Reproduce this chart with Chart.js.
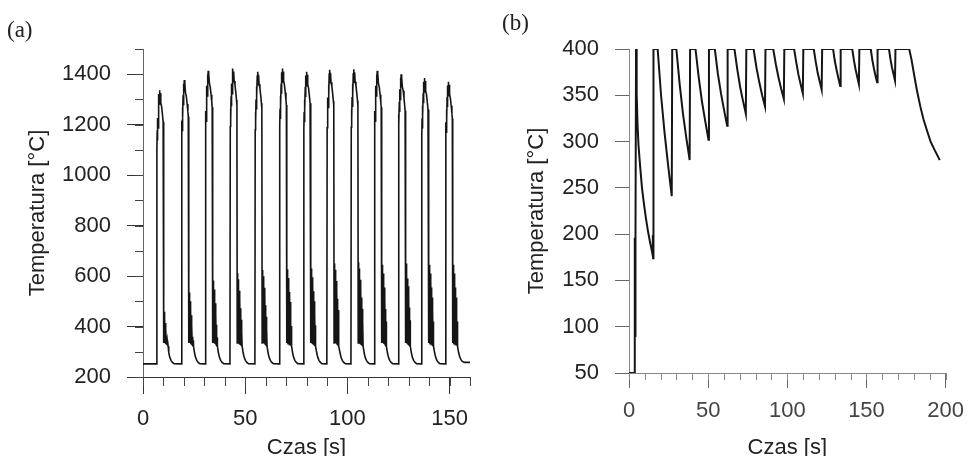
<!DOCTYPE html>
<html>
<head>
<meta charset="utf-8">
<script src="https://cdn.jsdelivr.net/npm/chart.js@4/dist/chart.umd.min.js"></script>
<style>
  body { margin: 0; background: #fff; }
  #wrap { position: relative; width: 974px; height: 456px; }
  canvas { position: absolute; top: 0; }
</style>
</head>
<body>
<div id="wrap">
  <canvas id="wykresA" width="480" height="456" style="left:7px"></canvas>
  <canvas id="wykresB" width="472" height="456" style="left:502px"></canvas>
</div>
<script>
// (a) temperatura [°C] w funkcji czasu [s], pary [czas, temperatura]
const przebiegA = [
  [0,252],[6.65,252],[6.8,1107],[6.95,1177],[7.05,1137],[7.2,1227],[7.35,1187],[7.5,1277],[7.65,1237],[7.8,1322],[7.95,1282],[8.1,1337],[8.25,1292],[8.45,1325],[8.7,1287],[9.1,1272],[9.5,1242],[9.85,1212],[10.05,1192],
  [10.2,335],[10.3,459],[10.4,340],[10.5,449],[10.6,338],[10.7,434],[10.8,336],[10.95,414],[11.1,334],[11.25,389],[11.4,332],[11.55,362],[11.7,330],[11.85,345],[12.0,326],[12.15,338],[12.3,322],[12.6,296],[13.1,278],[13.7,266],[14.4,258],[15.2,253],
  [18.75,252],[18.9,1147],[19.05,1217],[19.15,1177],[19.3,1267],[19.45,1227],[19.6,1317],[19.75,1277],[19.9,1362],[20.05,1322],[20.2,1377],[20.35,1332],[20.55,1365],[20.8,1327],[21.2,1312],[21.6,1282],[21.95,1252],[22.15,1232],
  [22.3,335],[22.4,545],[22.5,340],[22.6,535],[22.7,338],[22.8,520],[22.9,336],[23.05,500],[23.2,334],[23.35,475],[23.5,332],[23.65,445],[23.8,330],[23.95,405],[24.1,328],[24.25,360],[24.4,325],[24.55,345],[24.7,322],[25.2,296],[25.7,278],[26.3,266],[27.0,258],[27.8,253],
  [30.45,252],[30.6,1184],[30.75,1254],[30.85,1214],[31.0,1304],[31.15,1264],[31.3,1354],[31.45,1314],[31.6,1399],[31.75,1359],[31.9,1414],[32.05,1369],[32.25,1402],[32.5,1364],[32.9,1349],[33.3,1319],[33.65,1289],[33.85,1269],
  [34.0,335],[34.1,592],[34.2,340],[34.3,582],[34.4,338],[34.5,567],[34.6,336],[34.75,547],[34.9,334],[35.05,522],[35.2,332],[35.35,492],[35.5,330],[35.65,452],[35.8,328],[35.95,407],[36.1,325],[36.25,357],[36.4,322],[36.9,296],[37.4,278],[38.0,266],[38.7,258],[39.5,253],
  [42.55,252],[42.7,1193],[42.85,1263],[42.95,1223],[43.1,1313],[43.25,1273],[43.4,1363],[43.55,1323],[43.7,1408],[43.85,1368],[44.0,1423],[44.15,1378],[44.35,1411],[44.6,1373],[45.0,1358],[45.4,1328],[45.75,1298],[45.95,1278],
  [46.1,335],[46.2,612],[46.3,340],[46.4,602],[46.5,338],[46.6,587],[46.7,336],[46.85,567],[47.0,334],[47.15,542],[47.3,332],[47.45,512],[47.6,330],[47.75,472],[47.9,328],[48.05,427],[48.2,325],[48.35,377],[48.5,322],[49.0,296],[49.5,278],[50.1,266],[50.8,258],[51.6,253],
  [54.75,252],[54.9,1180],[55.05,1250],[55.15,1210],[55.3,1300],[55.45,1260],[55.6,1350],[55.75,1310],[55.9,1395],[56.05,1355],[56.2,1410],[56.35,1365],[56.55,1398],[56.8,1360],[57.2,1345],[57.6,1315],[57.95,1285],[58.15,1265],
  [58.3,335],[58.4,624],[58.5,340],[58.6,614],[58.7,338],[58.8,599],[58.9,336],[59.05,579],[59.2,334],[59.35,554],[59.5,332],[59.65,524],[59.8,330],[59.95,484],[60.1,328],[60.25,439],[60.4,325],[60.55,389],[60.7,322],[61.2,296],[61.7,278],[62.3,266],[63.0,258],[63.8,253],
  [66.75,252],[66.9,1193],[67.05,1263],[67.15,1223],[67.3,1313],[67.45,1273],[67.6,1363],[67.75,1323],[67.9,1408],[68.05,1368],[68.2,1423],[68.35,1378],[68.55,1411],[68.8,1373],[69.2,1358],[69.6,1328],[69.95,1298],[70.15,1278],
  [70.3,335],[70.4,637],[70.5,340],[70.6,627],[70.7,338],[70.8,612],[70.9,336],[71.05,592],[71.2,334],[71.35,567],[71.5,332],[71.65,537],[71.8,330],[71.95,497],[72.1,328],[72.25,452],[72.4,325],[72.55,402],[72.7,322],[73.2,296],[73.7,278],[74.3,266],[75.0,258],[75.8,253],
  [78.55,252],[78.7,1180],[78.85,1250],[78.95,1210],[79.1,1300],[79.25,1260],[79.4,1350],[79.55,1310],[79.7,1395],[79.85,1355],[80.0,1410],[80.15,1365],[80.35,1398],[80.6,1360],[81.0,1345],[81.4,1315],[81.75,1285],[81.95,1265],
  [82.1,335],[82.2,640],[82.3,340],[82.4,630],[82.5,338],[82.6,615],[82.7,336],[82.85,595],[83.0,334],[83.15,570],[83.3,332],[83.45,540],[83.6,330],[83.75,500],[83.9,328],[84.05,455],[84.2,325],[84.35,405],[84.5,322],[85.0,296],[85.5,278],[86.1,266],[86.8,258],[87.6,253],
  [89.95,252],[90.1,1188],[90.25,1258],[90.35,1218],[90.5,1308],[90.65,1268],[90.8,1358],[90.95,1318],[91.1,1403],[91.25,1363],[91.4,1418],[91.55,1373],[91.75,1406],[92.0,1368],[92.4,1353],[92.8,1323],[93.15,1293],[93.35,1273],
  [93.5,335],[93.6,650],[93.7,340],[93.8,640],[93.9,338],[94.0,625],[94.1,336],[94.25,605],[94.4,334],[94.55,580],[94.7,332],[94.85,550],[95.0,330],[95.15,510],[95.3,328],[95.45,465],[95.6,325],[95.75,415],[95.9,322],[96.4,296],[96.9,278],[97.5,266],[98.2,258],[99.0,253],
  [101.75,252],[101.9,1190],[102.05,1260],[102.15,1220],[102.3,1310],[102.45,1270],[102.6,1360],[102.75,1320],[102.9,1405],[103.05,1365],[103.2,1420],[103.35,1375],[103.55,1408],[103.8,1370],[104.2,1355],[104.6,1325],[104.95,1295],[105.15,1275],
  [105.3,335],[105.4,655],[105.5,340],[105.6,645],[105.7,338],[105.8,630],[105.9,336],[106.05,610],[106.2,334],[106.35,585],[106.5,332],[106.65,555],[106.8,330],[106.95,515],[107.1,328],[107.25,470],[107.4,325],[107.55,420],[107.7,322],[108.2,296],[108.7,278],[109.3,266],[110.0,258],[110.8,253],
  [113.15,252],[113.3,1184],[113.45,1254],[113.55,1214],[113.7,1304],[113.85,1264],[114.0,1354],[114.15,1314],[114.3,1399],[114.45,1359],[114.6,1414],[114.75,1369],[114.95,1402],[115.2,1364],[115.6,1349],[116.0,1319],[116.35,1289],[116.55,1269],
  [116.7,335],[116.8,655],[116.9,340],[117.0,645],[117.1,338],[117.2,630],[117.3,336],[117.45,610],[117.6,334],[117.75,585],[117.9,332],[118.05,555],[118.2,330],[118.35,515],[118.5,328],[118.65,470],[118.8,325],[118.95,420],[119.1,322],[119.6,296],[120.1,278],[120.7,266],[121.4,258],[122.2,253],
  [124.85,252],[125.0,1170],[125.15,1240],[125.25,1200],[125.4,1290],[125.55,1250],[125.7,1340],[125.85,1300],[126.0,1385],[126.15,1345],[126.3,1400],[126.45,1355],[126.65,1388],[126.9,1350],[127.3,1335],[127.7,1305],[128.05,1275],[128.25,1255],
  [128.4,335],[128.5,660],[128.6,340],[128.7,650],[128.8,338],[128.9,635],[129.0,336],[129.15,615],[129.3,334],[129.45,590],[129.6,332],[129.75,560],[129.9,330],[130.05,520],[130.2,328],[130.35,475],[130.5,325],[130.65,425],[130.8,322],[131.3,296],[131.8,278],[132.4,266],[133.1,258],[133.9,253],
  [136.25,252],[136.4,1155],[136.55,1225],[136.65,1185],[136.8,1275],[136.95,1235],[137.1,1325],[137.25,1285],[137.4,1370],[137.55,1330],[137.7,1385],[137.85,1340],[138.05,1373],[138.3,1335],[138.7,1320],[139.1,1290],[139.45,1260],[139.65,1240],
  [139.8,335],[139.9,655],[140.0,340],[140.1,645],[140.2,338],[140.3,630],[140.4,336],[140.55,610],[140.7,334],[140.85,585],[141.0,332],[141.15,555],[141.3,330],[141.45,515],[141.6,328],[141.75,470],[141.9,325],[142.05,420],[142.2,322],[142.7,296],[143.2,278],[143.8,266],[144.5,258],[145.3,253],
  [147.95,252],[148.1,1140],[148.25,1210],[148.35,1170],[148.5,1260],[148.65,1220],[148.8,1310],[148.95,1270],[149.1,1355],[149.25,1315],[149.4,1370],[149.55,1325],[149.75,1358],[150.0,1320],[150.4,1305],[150.8,1275],[151.15,1245],[151.35,1225],
  [151.5,335],[151.6,655],[151.7,340],[151.8,645],[151.9,338],[152.0,630],[152.1,336],[152.25,610],[152.4,334],[152.55,585],[152.7,332],[152.85,555],[153.0,330],[153.15,515],[153.3,328],[153.45,470],[153.6,325],[153.75,420],[153.9,322],[154.4,298],[154.9,282],[155.5,270],[156.2,262],[157.2,258],[160,258]
];

// (b) temperatura [°C] w funkcji czasu [s]
const przebiegB = [
  [0,50],[3.5,50],[3.6,88],[3.7,196],[3.8,90],[3.9,198],[4.0,92],[4.1,197],[4.2,96],[4.3,198],[4.45,400],
  [4.7,390],[5.0,352],[5.4,318],[6.0,296],[7.0,274],[8.2,250],[9.5,232],[10.8,216],[12.0,203],[13.2,192],[14.3,183],[14.9,178],
  [15.0,176],[15.1,199],[15.2,174],[15.3,201],[15.4,175],[15.5,180],[15.6,400],
  [18.1,400],[20.3,349],[22.55,308],[24.8,273],[27.0,241],[27.3,400],
  [29.9,400],[32.0,362],[34.1,330],[36.2,304],[38.3,280],[38.6,400],
  [42.0,400],[44.05,369],[46.1,343],[48.15,322],[50.2,302],[50.5,400],
  [54.2,400],[56.15,373],[58.1,352],[60.05,334],[62.0,317],[62.3,400],
  [66.6,400],[68.4,378],[70.2,359],[72.0,344],[73.8,330],[74.1,400],
  [78.7,400],[80.5,380],[82.3,364],[84.1,350],[85.9,338],[86.2,400],
  [91.1,400],[92.8,383],[94.45,369],[96.1,357],[97.8,346],[98.1,400],
  [104.3,400],[105.7,385],[107.05,372],[108.4,362],[109.8,352],[110.1,400],
  [116.7,400],[117.95,386],[119.2,374],[120.45,365],[121.7,356],[122.0,400],
  [128.9,400],[130.0,387],[131.15,377],[132.3,368],[133.4,360],[133.7,400],
  [141.0,400],[142.05,388],[143.1,378],[144.15,370],[145.2,362],[145.5,400],
  [152.7,400],[153.7,388],[154.7,379],[155.7,371],[156.7,364],[157.0,400],
  [164.2,400],[165.15,389],[166.1,380],[167.05,373],[168.0,366],[168.3,400],
  [177.0,400],[178.5,388],[180.0,373],[182.0,354],[184.0,338],[186.0,324],[188.2,312],[190.5,300],[193.0,291],[196.3,280]
];

const tickiAX = [0, 50, 100, 150];
const tickiAY = [200, 400, 600, 800, 1000, 1200, 1400];
const tickiBX = [0, 50, 100, 150, 200];
const tickiBY = [50, 100, 150, 200, 250, 300, 350, 400];

// krotkie kreski pomiedzy opisanymi wartosciami
const minorTicks = {
  id: 'minorTicks',
  afterDraw(chart, args, opts) {
    const ctx = chart.ctx;
    ctx.save();
    ctx.strokeStyle = opts.color;
    ctx.lineWidth = 1;
    ['x', 'y'].forEach(id => {
      const m = opts[id];
      if (!m) return;
      const s = chart.scales[id];
      for (let v = s.min; v <= s.max + 1e-6; v += m.step) {
        const p = Math.round(s.getPixelForValue(v)) + 0.5;
        ctx.beginPath();
        if (id === 'x') { ctx.moveTo(p, s.top); ctx.lineTo(p, s.top + m.len); }
        else { ctx.moveTo(s.right, p); ctx.lineTo(s.right - m.len, p); }
        ctx.stroke();
      }
    });
    ctx.restore();
  }
};

function makeChart(el, cfg) {
  const font = { family: '"Liberation Sans", Arial, sans-serif', size: 22 };
  const titleFont = { family: '"Liberation Sans", Arial, sans-serif', size: 22, lineHeight: 0.75 };
  return new Chart(document.getElementById(el), {
    type: 'line',
    data: {
      datasets: [{
        data: cfg.points.map(([x, y]) => ({ x, y })),
        borderColor: '#151515',
        borderWidth: cfg.lineWidth,
        pointRadius: 0,
        tension: 0,
        fill: false
      }]
    },
    plugins: [minorTicks],
    options: {
      responsive: false,
      animation: false,
      devicePixelRatio: 1,
      layout: { padding: { left: 0, top: 0, right: 17, bottom: 0 } },
      plugins: {
        legend: { display: false },
        tooltip: { enabled: false },
        title: {
          display: true,
          text: cfg.label,
          align: 'start',
          color: '#222',
          font: { family: '"Liberation Serif", "Times New Roman", serif', size: 23, weight: 'normal', lineHeight: 1.2 },
          padding: cfg.labelPad
        },
        minorTicks: cfg.minor
      },
      scales: {
        x: {
          type: 'linear',
          min: cfg.xMin, max: cfg.xMax,
          afterBuildTicks: s => { s.ticks = cfg.xTicks.map(v => ({ value: v })); },
          afterFit: s => { s.height = cfg.xHeight; },
          ticks: { callback: v => String(v), font, color: cfg.xTickColor, padding: cfg.xPad, maxRotation: 0, autoSkip: false },
          grid: { drawOnChartArea: false, drawTicks: true, tickLength: cfg.xTickLen, tickColor: cfg.tickColor },
          border: { display: true, color: cfg.xAxisColor, width: 1 },
          title: { display: true, text: 'Czas [s]', color: '#222', font: titleFont, padding: { top: 0, bottom: 0 } }
        },
        y: {
          type: 'linear',
          min: cfg.yMin, max: cfg.yMax,
          afterBuildTicks: s => { s.ticks = cfg.yTicks.map(v => ({ value: v })); },
          afterFit: s => { s.width = cfg.yWidth; },
          ticks: { callback: v => String(v), font, color: '#222', padding: 16, autoSkip: false },
          grid: { drawOnChartArea: false, drawTicks: true, tickLength: cfg.yTickLen, tickColor: cfg.tickColor },
          border: { display: true, color: cfg.yAxisColor, width: 1 },
          title: { display: true, text: 'Temperatura [°C]', color: '#222', font: titleFont, padding: { top: cfg.yTitlePad, bottom: 0 } }
        }
      }
    }
  });
}

makeChart('wykresA', {
  points: przebiegA, lineWidth: 1.6, label: '(a)',
  labelPad: { top: 17, bottom: 4.4 },
  xMin: 0, xMax: 160, xTicks: tickiAX, xHeight: 79, xPad: 12, xTickLen: 17,
  yMin: 200, yMax: 1500, yTicks: tickiAY, yWidth: 136, yTickLen: 16, yTitlePad: 22.75,
  tickColor: '#333', xAxisColor: '#333', yAxisColor: '#666', xTickColor: '#222',
  minor: { color: '#444', x: { step: 10, len: 9 }, y: { step: 100, len: 8 } }
});

makeChart('wykresB', {
  points: przebiegB, lineWidth: 2, label: '(b)',
  labelPad: { top: 10, bottom: 11.4 },
  xMin: 0, xMax: 200, xTicks: tickiBX, xHeight: 83, xPad: 10, xTickLen: 15,
  yMin: 50, yMax: 400, yTicks: tickiBY, yWidth: 127, yTickLen: 14, yTitlePad: 26.75,
  tickColor: '#666', xAxisColor: '#888', yAxisColor: '#888', xTickColor: '#444',
  minor: { color: '#888', x: { step: 10, len: 7 } }
});
</script>
</body>
</html>
